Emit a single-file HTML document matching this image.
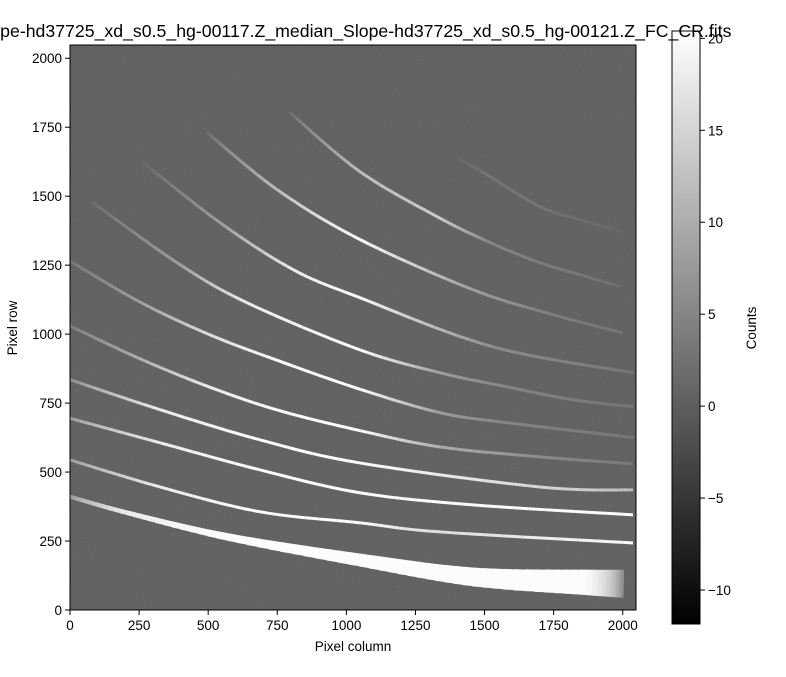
<!DOCTYPE html>
<html><head><meta charset="utf-8"><style>
body{margin:0;background:#fff;width:786px;height:672px;overflow:hidden}
svg text{font-family:"Liberation Sans",sans-serif;fill:#000}
</style></head><body>
<svg id="fig" width="786" height="672" viewBox="0 0 786 672" xmlns="http://www.w3.org/2000/svg">
<defs>
<linearGradient id="cbg" x1="0" y1="1" x2="0" y2="0"><stop offset="0" stop-color="#000"/><stop offset="1" stop-color="#fff"/></linearGradient>
<filter id="grain" x="0" y="0" width="100%" height="100%"><feTurbulence type="fractalNoise" baseFrequency="0.9" numOctaves="1" seed="3"/><feColorMatrix type="matrix" values="0 0 0 0 0.5  0 0 0 0 0.5  0 0 0 0 0.5  0 0 0 0.5 -0.1"/></filter>
<clipPath id="pc"><rect x="70" y="45" width="566" height="565"/></clipPath>
</defs>
<g id="plot" clip-path="url(#pc)"></g>
<g id="axes"></g>
<g id="cbar"></g>
<text x="353" y="37" font-size="17.7" text-anchor="middle">Slope-hd37725_xd_s0.5_hg-00117.Z_median_Slope-hd37725_xd_s0.5_hg-00121.Z_FC_CR.fits</text>
<text x="353" y="651" font-size="13.5" text-anchor="middle">Pixel column</text>
<text x="17" y="328" font-size="13.5" text-anchor="middle" transform="rotate(-90 17 328)">Pixel row</text>
<text x="756" y="328" font-size="13.5" text-anchor="middle" transform="rotate(-90 756 328)">Counts</text>
</svg>
<script>
const xTicks=[0,250,500,750,1000,1250,1500,1750,2000];
const yTicks=[0,250,500,750,1000,1250,1500,1750,2000];
const cbTicks=[20,15,10,5,0,-5,-10];
const cbTickLabels=["20","15","10","5","0","\u22125","\u221210"];
const cbRange=[-11.85,20.4];
const backgroundValue=0;
// arcs: [column,row,counts]
const arcT0=[[1400,1640,1],[1520,1571,3],[1700,1462,3],[1845,1415,2],[2000,1370,1]];
const arcT1=[[796,1803,2],[1049,1589,12],[1328,1426,14],[1520,1332,5],[1700,1259,4],[1881,1205,3],[1990,1172,2]];
const arcT2=[[496,1731,2],[749,1524,12],[1049,1343,20],[1458,1161,8],[1750,1070,4],[2000,1005,3]];
const arcT3=[[264,1622,1],[543,1404,8],[807,1234,18],[1049,1132,20],[1530,954,6],[2037,860,3]];
const arcT4=[[83,1477,2],[387,1259,8],[640,1114,18],[1049,943,20],[1339,860,8],[1581,809,5],[1820,762,4],[2037,737,3]];
const arcT5=[[0,1265,3],[250,1118,8],[500,1000,16],[750,905,20],[1050,800,20],[1340,715,8],[1580,679,5],[2040,625,3]];
const arcT6=[[0,1030,4],[250,912,10],[500,810,18],[750,725,20],[1050,650,20],[1340,591,10],[1700,555,6],[2037,530,3]];
const arcLb=[[0,835,6],[326,726,18],[687,617,20],[1049,533,20],[1700,446,15],[2037,435,12]];
const arcLc=[[0,695,8],[326,606,18],[687,508,20],[1049,425,20],[1458,381,20],[2037,345,20]];
const arcLd=[[0,544,8],[326,446,18],[687,356,20],[1049,316,20],[1339,283,16],[2037,243,20]];
const arcLe=[[0,410,8],[207,352,18],[568,265,20],[1049,181,20],[1458,120,20],[1870,100,20],[2000,95,6]];
const arcs=[arcT0,arcT1,arcT2,arcT3,arcT4,arcT5,arcT6,arcLb,arcLc,arcLd,arcLe];
const arcNames=["order-0","order-1","order-2","order-3","order-4","order-5","order-6","order-7","order-8","order-9","order-10"];
const bandWidth=[4,28]; // bottom band width start/end (style)

const NS="http://www.w3.org/2000/svg";
const X=c=>70+c*566/2048, Y=r=>610-r*565/2048;
const CY=v=>31+(cbRange[1]-v)/(cbRange[1]-cbRange[0])*593;
function gray(v){let t=(v-cbRange[0])/(cbRange[1]-cbRange[0]);t=Math.max(0,Math.min(1,t));const g=Math.round(t*255);return `rgb(${g},${g},${g})`;}
function mk(tag,attrs,parent){const e=document.createElementNS(NS,tag);for(const k in attrs)e.setAttribute(k,attrs[k]);parent.appendChild(e);return e;}
const plot=document.getElementById('plot');
const bg=mk('rect',{x:70,y:45,width:566,height:565,fill:gray(backgroundValue)},plot);


const gr=mk('rect',{x:70,y:45,width:566,height:565,filter:'url(#grain)',opacity:0.35},plot);


function cr(p0,p1,p2,p3,t){const t2=t*t,t3=t2*t;return 0.5*((2*p1)+(-p0+p2)*t+(2*p0-5*p1+4*p2-p3)*t2+(-p0+3*p1-3*p2+p3)*t3);}
arcs.forEach((a,ai)=>{
  const g=mk('g',{},plot);
  
  
  const isBand=ai===arcs.length-1;
  const n=a.length;let pts=[];
  for(let i=0;i<n-1;i++){const p0=a[Math.max(0,i-1)],p1=a[i],p2=a[i+1],p3=a[Math.min(n-1,i+2)];
    for(let s=0;s<12;s++){const t=s/12;pts.push([cr(p0[0],p1[0],p2[0],p3[0],t),cr(p0[1],p1[1],p2[1],p3[1],t),p1[2]+(p2[2]-p1[2])*t]);}}
  pts.push(a[n-1]);
  const c0=a[0][0],c1=a[n-1][0];
  for(let i=0;i<pts.length-1;i++){const p=pts[i],q=pts[i+1];
    const f=(p[0]-c0)/(c1-c0);
    const w=isBand?bandWidth[0]+(bandWidth[1]-bandWidth[0])*Math.pow(f,1.5):3;
    const s=mk('line',{x1:X(p[0]),y1:Y(p[1]),x2:X(q[0])+(isBand?1:0),y2:Y(q[1]),stroke:gray((p[2]+q[2])/2),'stroke-width':w,'stroke-linecap':'butt'},g);
    
    }
});
const axes=document.getElementById('axes');
mk('rect',{x:70,y:45,width:566,height:565,fill:'none',stroke:'#000','stroke-width':1},axes);
xTicks.forEach(v=>{const x=X(v);mk('line',{x1:x,y1:610,x2:x,y2:615,stroke:'#000'},axes);
  const t=mk('text',{x:x,y:630,'font-size':13.5,'text-anchor':'middle'},axes);t.textContent=v;
  
  });
yTicks.forEach(v=>{const y=Y(v);mk('line',{x1:65,y1:y,x2:70,y2:y,stroke:'#000'},axes);
  const t=mk('text',{x:62,y:y+5,'font-size':13.5,'text-anchor':'end'},axes);t.textContent=v;
  
  });
const cb=document.getElementById('cbar');
mk('rect',{x:672,y:31,width:28,height:593,fill:'url(#cbg)',stroke:'#000','stroke-width':1},cb);
cbTicks.forEach((v,i)=>{const y=CY(v);mk('line',{x1:700,y1:y,x2:705,y2:y,stroke:'#000'},cb);
  const t=mk('text',{x:708,y:y+5,'font-size':13.5},cb);t.textContent=cbTickLabels[i];
  
  });
</script>
</body></html>
